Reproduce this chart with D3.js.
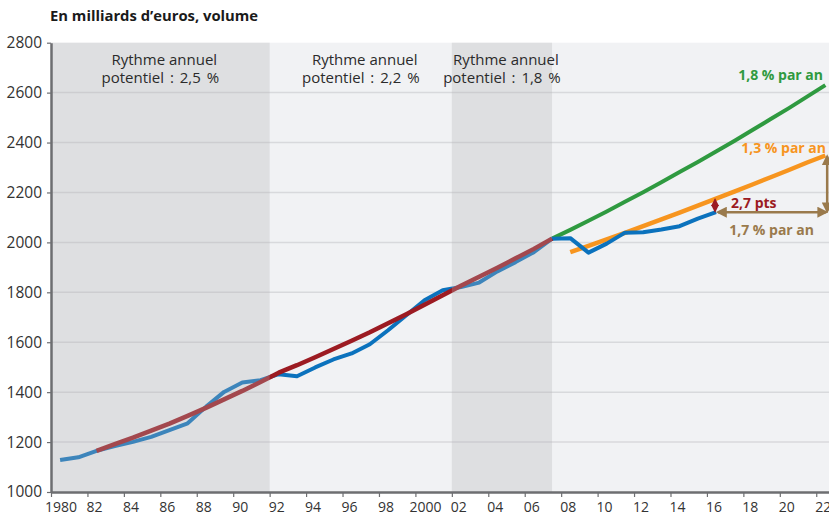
<!DOCTYPE html>
<html>
<head>
<meta charset="utf-8">
<script src="https://cdn.jsdelivr.net/npm/d3@7"></script>
<style>
  body { margin: 0; background: #fff; }
  text { font-family: "Open Sans", "Noto Sans", sans-serif; }
</style>
</head>
<body>
<div id="chart"></div>
<script>
// data (year values are plotted at mid-year)
var gdpYears = d3.range(1980, 2017);
var gdp = [1128, 1139, 1165, 1184, 1201, 1221, 1248, 1275, 1341, 1401, 1439, 1448,
           1472, 1464, 1499, 1531, 1555, 1592, 1648, 1708, 1768, 1808, 1821, 1839,
           1884, 1921, 1961, 2015, 2017, 1959, 1995, 2039, 2041, 2052, 2065, 2095, 2121];

var potYears = d3.range(1982, 2008);
var potential = [1165, 1192, 1218, 1246, 1274, 1305, 1337, 1371, 1405, 1441, 1478,
                 1508, 1540, 1573, 1606, 1640, 1676, 1712, 1750, 1788, 1826,
                 1862, 1898, 1936, 1974, 2015];

var trend18Years = d3.range(2007, 2023);
var trend18 = [2015, 2050, 2087, 2124, 2163, 2201, 2241, 2282, 2322, 2364, 2406,
               2450, 2494, 2538, 2584, 2630];

var trend13Years = d3.range(2008, 2023);
var trend13 = [1961, 1986, 2012, 2038, 2065, 2092, 2119, 2147, 2175, 2203, 2232,
               2261, 2290, 2320, 2348];

var bands = [
  {from: 1980, to: 1992},
  {from: 2002, to: 2007.5}
];
var bandLabels = [
  {center: 1986, rate: "2,5 %"},
  {center: 1997, rate: "2,2 %"},
  {center: 2004.75, rate: "1,8 %"}
];

var yTicks = [1000, 1200, 1400, 1600, 1800, 2000, 2200, 2400, 2600, 2800];
var xTicks = d3.range(1980, 2023, 2);
var xTickLabels = ["1980", "82", "84", "86", "88", "90", "92", "94", "96", "98",
                   "2000", "02", "04", "06", "08", "10", "12", "14", "16", "18", "20", "22"];

var width = 829, height = 517;

var svg = d3.select("#chart").append("svg")
    .attr("width", width)
    .attr("height", height);

var x = d3.scaleLinear().domain([1980, 2022.7]).range([51, 829]);
var y = d3.scaleLinear().domain([1000, 2800]).range([492, 42.7]);

// plot background
svg.append("rect")
    .attr("x", x(1980)).attr("y", y(2800))
    .attr("width", x(2022.7) - x(1980)).attr("height", y(1000) - y(2800))
    .attr("fill", "#f1f2f4");

// grid
svg.append("g").selectAll("line")
  .data(yTicks.slice(1, -1))
  .enter().append("line")
    .attr("x1", x(1980)).attr("x2", x(2022.7))
    .attr("y1", d => y(d)).attr("y2", d => y(d))
    .attr("stroke", "#d8d9dc")
    .attr("stroke-width", 1.5);

var line = d3.line()
    .x(d => x(d[0] + 0.5))
    .y(d => y(d[1]));

function addLine(years, vals, color, w) {
  svg.append("path")
    .datum(d3.zip(years, vals))
    .attr("d", line)
    .attr("fill", "none")
    .attr("stroke", color)
    .attr("stroke-width", w)
    .attr("stroke-linejoin", "round");
}

addLine(trend18Years, trend18, "#2f9a40", 4);
addLine(trend13Years, trend13, "#f7951f", 4.5);
addLine(gdpYears, gdp, "#0b72bd", 4);
addLine(potYears, potential, "#9c1b22", 4.5);

// shaded periods sit on top of the lines
svg.append("g").selectAll("rect")
  .data(bands)
  .enter().append("rect")
    .attr("x", d => x(d.from))
    .attr("width", d => x(d.to) - x(d.from))
    .attr("y", y(2800))
    .attr("height", y(1000) - y(2800))
    .attr("fill", "#b3b4b7")
    .attr("opacity", 0.3);

// band labels
var bl = svg.append("g").selectAll("g")
  .data(bandLabels)
  .enter().append("g");
bl.append("text")
    .attr("x", d => x(d.center) + 4)
    .attr("y", 65)
    .attr("text-anchor", "middle")
    .attr("font-size", 15)
    .attr("fill", "#2b2b2b")
    .text("Rythme annuel");
bl.append("text")
    .attr("x", d => x(d.center))
    .attr("y", 82.5)
    .attr("text-anchor", "middle")
    .attr("font-size", 15)
    .attr("fill", "#2b2b2b")
    .attr("word-spacing", 2)
    .text(d => "potentiel : " + d.rate);

// axes
var yAxis = svg.append("g")
    .attr("transform", "translate(" + x(1980) + ",0)")
    .call(d3.axisLeft(y).tickValues(yTicks).tickSize(4).tickSizeOuter(0)
      .tickFormat(d3.format("d")).tickPadding(5));
yAxis.selectAll("text")
    .attr("font-size", 15.5)
    .attr("fill", "#333")
    .style("font-family", "'Open Sans', sans-serif");

var xAxis = svg.append("g")
    .attr("transform", "translate(0," + y(1000) + ")")
    .call(d3.axisBottom(x).tickValues(xTicks).tickSize(5).tickSizeOuter(0)
      .tickFormat((d, i) => xTickLabels[i]).tickPadding(5));
xAxis.selectAll("text")
    .attr("font-size", 14)
    .attr("fill", "#333")
    .attr("dx", (d, i) => xTickLabels[i].length > 2 ? 9.5 : 6.5)
    .style("font-family", "'Open Sans', sans-serif");

[yAxis, xAxis].forEach(function(a) {
  a.select(".domain").attr("stroke", "#6d6e71").attr("stroke-width", 2.5);
  a.selectAll(".tick line").attr("stroke", "#6d6e71").attr("stroke-width", 1.2);
});

// title
svg.append("text")
    .attr("x", 50).attr("y", 21)
    .attr("font-size", 14.8)
    .attr("font-weight", "bold")
    .attr("fill", "#1a1a1a")
    .text("En milliards d’euros, volume");

// arrows
var defs = svg.append("defs");
function marker(id, color, size) {
  defs.append("marker")
    .attr("id", id)
    .attr("viewBox", "0 0 10 10")
    .attr("refX", 8).attr("refY", 5)
    .attr("markerWidth", size).attr("markerHeight", size)
    .attr("orient", "auto-start-reverse")
    .attr("markerUnits", "strokeWidth")
    .append("path")
      .attr("d", "M0,0L10,5L0,10z")
      .attr("fill", color);
}
marker("ab", "#9a7a4c", 4.4);
marker("ar", "#9c1b22", 4);

var lastGdp = gdp[gdp.length - 1];
var end13 = trend13[trend13.length - 1];
var gdpEnd = x(2016.5);
var rightX = x(2022.6);

svg.append("line")
    .attr("x1", gdpEnd + 2).attr("x2", rightX - 1)
    .attr("y1", y(lastGdp)).attr("y2", y(lastGdp))
    .attr("stroke", "#9a7a4c").attr("stroke-width", 2.5)
    .attr("marker-start", "url(#ab)").attr("marker-end", "url(#ab)");
svg.append("line")
    .attr("x1", rightX).attr("x2", rightX)
    .attr("y1", y(end13) + 1).attr("y2", y(lastGdp) - 1)
    .attr("stroke", "#9a7a4c").attr("stroke-width", 2.5)
    .attr("marker-start", "url(#ab)").attr("marker-end", "url(#ab)");
svg.append("line")
    .attr("x1", gdpEnd - 1).attr("x2", gdpEnd - 1)
    .attr("y1", y(trend13[8]) + 1).attr("y2", y(lastGdp) - 1)
    .attr("stroke", "#9c1b22").attr("stroke-width", 2)
    .attr("marker-start", "url(#ar)").attr("marker-end", "url(#ar)");

// annotations
function note(tx, ty, anchor, color, str) {
  svg.append("text")
    .attr("x", tx).attr("y", ty)
    .attr("text-anchor", anchor)
    .attr("font-size", 14)
    .attr("font-weight", "bold")
    .attr("fill", color)
    .text(str);
}
note(823, 80, "end", "#2f9a40", "1,8 % par an");
note(826, 153, "end", "#f7951f", "1,3 % par an");
note(731, 208, "start", "#9c1b22", "2,7 pts");
note(814, 235, "end", "#9a7a4c", "1,7 % par an");
</script>
</body>
</html>
